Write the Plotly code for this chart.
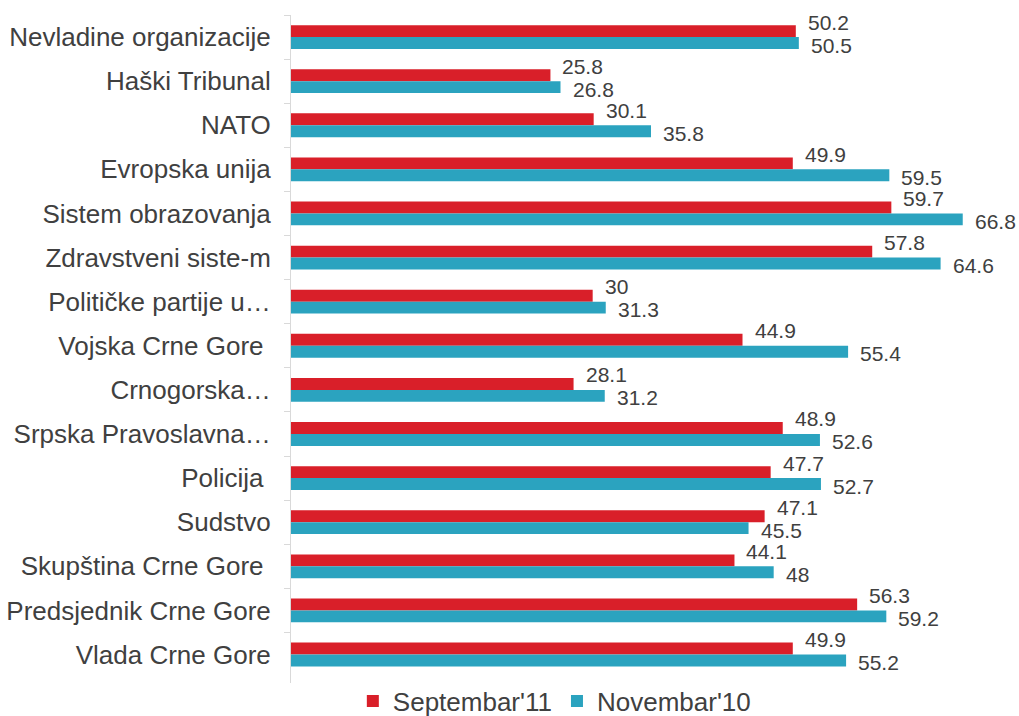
import plotly.graph_objects as go

categories = [
    "Nevladine organizacije",
    "Haški Tribunal",
    "NATO",
    "Evropska unija",
    "Sistem obrazovanja",
    "Zdravstveni siste-m",
    "Političke partije u…",
    "Vojska Crne Gore\u00a0",
    "Crnogorska…",
    "Srpska Pravoslavna…",
    "Policija\u00a0",
    "Sudstvo",
    "Skupština Crne Gore\u00a0",
    "Predsjednik Crne Gore",
    "Vlada Crne Gore",
]
sep11 = [50.2, 25.8, 30.1, 49.9, 59.7, 57.8, 30, 44.9, 28.1, 48.9, 47.7, 47.1, 44.1, 56.3, 49.9]
nov10 = [50.5, 26.8, 35.8, 59.5, 66.8, 64.6, 31.3, 55.4, 31.2, 52.6, 52.7, 45.5, 48, 59.2, 55.2]
series_names = ["Septembar'11", "Novembar'10"]

RED = "#D91F29"
TEAL = "#2BA3BF"
TXT = "#404040"
FONT = "Liberation Sans, Arial, sans-serif"

fig = go.Figure()
fig.add_trace(go.Bar(y=categories, x=sep11, orientation="h", name=series_names[0],
                     marker=dict(color=RED, line=dict(width=0))))
fig.add_trace(go.Bar(y=categories, x=nov10, orientation="h", name=series_names[1],
                     marker=dict(color=TEAL, line=dict(width=0))))

annotations = []
for c, v in zip(categories, sep11):
    annotations.append(dict(x=v, y=c, xref="x", yref="y", text=f"{v:g}", showarrow=False,
                            xanchor="left", yanchor="middle", xshift=10, yshift=15,
                            font=dict(size=21, color=TXT, family=FONT)))
for c, v in zip(categories, nov10):
    annotations.append(dict(x=v, y=c, xref="x", yref="y", text=f"{v:g}", showarrow=False,
                            xanchor="left", yanchor="middle", xshift=10, yshift=-8,
                            font=dict(size=21, color=TXT, family=FONT)))

fig.update_layout(
    width=1019, height=716,
    margin=dict(l=291, r=9, t=15, b=33, autoexpand=False),
    paper_bgcolor="white", plot_bgcolor="white",
    barmode="group", bargap=0.46, bargroupgap=0,
    font=dict(family=FONT, color=TXT),
    annotations=annotations,
    showlegend=True,
    legend=dict(orientation="h", x=0.086, xanchor="left", y=0.008, yanchor="top",
                font=dict(size=26, color=TXT, family=FONT), traceorder="normal",
                bgcolor="rgba(0,0,0,0)"),
)
fig.update_xaxes(range=[0, 71.5], showticklabels=False, showgrid=False, zeroline=False,
                 showline=False, ticks="")
fig.update_yaxes(autorange="reversed", showgrid=False, zeroline=False,
                 showline=True, linecolor="#D9D9D9", linewidth=1,
                 ticks="outside", tickson="boundaries", ticklen=6, tickcolor="#D9D9D9",
                 ticklabelstandoff=14,
                 tickfont=dict(size=26, color=TXT, family=FONT))

fig.write_html("out.html", config={"displayModeBar": False},
               post_script="document.body.style.margin='0px';")
